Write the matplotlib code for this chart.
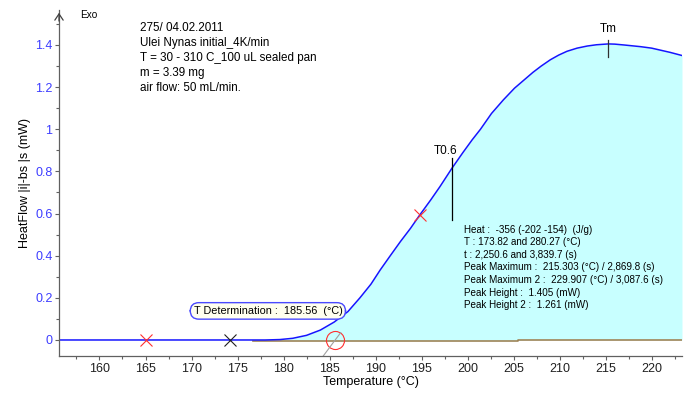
import numpy as np
import matplotlib
matplotlib.use("Agg")
import matplotlib.pyplot as plt
from matplotlib.ticker import MultipleLocator, FuncFormatter

plt.rcParams['font.family'] = ['Liberation Sans', 'DejaVu Sans']

# heat flow curve (temperature in C, heat flow in mW)
temp = [155.6, 165, 174, 178, 179.6, 181, 182.5, 184, 185.5, 187, 188.3, 189.5,
        190.5, 191.6, 192.7, 193.8, 194.8, 196, 197, 198.3, 199.5, 200.5, 201.4,
        202.6, 203.9, 205.1, 206.3, 207.1, 208, 209, 209.9, 210.8, 211.9, 213,
        214, 215.3, 216, 217, 218.8, 220, 221, 222, 223.3]
heat = [0, 0, 0, 0, 0.002, 0.008, 0.022, 0.047, 0.085, 0.135, 0.2, 0.265,
        0.332, 0.40, 0.467, 0.53, 0.593, 0.665, 0.728, 0.815, 0.89, 0.95, 1.0,
        1.075, 1.14, 1.195, 1.24, 1.27, 1.30, 1.33, 1.352, 1.37, 1.385, 1.395,
        1.401, 1.405, 1.404, 1.40, 1.392, 1.385, 1.375, 1.365, 1.35]

# integration baseline
base_t = [176.7, 205.5, 205.5, 223.3]
base_v = [-0.004, -0.004, 0.0, 0.0]

# markers
red_x_t = [165.0, 194.8]
red_x_v = [0.0, 0.593]
black_x_t = [174.2]
black_x_v = [0.0]
t_det = 185.56
t06 = 198.3
tm = 215.3
tm_val = 1.405

header = ("275/ 04.02.2011\nUlei Nynas initial_4K/min\n"
          "T = 30 - 310 C_100 uL sealed pan\nm = 3.39 mg\nair flow: 50 mL/min.")
stats = ("Heat :  -356 (-202 -154)  (J/g)\n"
         "T : 173.82 and 280.27 (\u00b0C)\n"
         "t : 2,250.6 and 3,839.7 (s)\n"
         "Peak Maximum :  215.303 (\u00b0C) / 2,869.8 (s)\n"
         "Peak Maximum 2 :  229.907 (\u00b0C) / 3,087.6 (s)\n"
         "Peak Height :  1.405 (mW)\n"
         "Peak Height 2 :  1.261 (mW)")

fig = plt.figure(figsize=(6.88, 3.94), dpi=100)
ax = fig.add_axes([59/688, 38/394, (682-59)/688, (384-38)/394])

t = np.array(temp)
h = np.array(heat)
bl = np.interp(t, base_t, base_v)
mask = t >= 179.6
ax.fill_between(t[mask], bl[mask], h[mask], color='#c8ffff', lw=0)
ax.plot(base_t, base_v, color='#a08458', lw=1.2)
ax.plot(t, h, color='#1515ff', lw=1.1)

ax.plot(red_x_t, red_x_v, 'x', color='#ff3030', ms=9, mew=0.8)
ax.plot(black_x_t, black_x_v, 'x', color='#202020', ms=9, mew=0.8)
ax.plot([t_det], [0], 'o', mfc='none', mec='#ff3030', ms=13, mew=0.8)
ax.plot([t_det + 0.65, t_det - 1.4], [0.035, -0.085], color='#a0a0a0', lw=0.8)

ax.plot([t06, t06], [0.57, 0.864], color='black', lw=0.9)
ax.text(t06 - 0.7, 0.87, 'T0.6', fontsize=8.5, ha='center', va='bottom')
ax.plot([tm, tm], [tm_val - 0.06, tm_val + 0.02], color='#303030', lw=0.9)
ax.text(tm, tm_val + 0.04, 'Tm', fontsize=8.5, ha='center', va='bottom')

ax.text(178.3, 0.138, 'T Determination :  %.2f  (\u00b0C)' % t_det, fontsize=7.8,
        ha='center', va='center',
        bbox=dict(boxstyle='round,pad=0.3,rounding_size=0.8', fc='#ffffee', ec='#4a4aff', lw=1.0))

ax.text(199.6, 0.548, stats, fontsize=7.1, ha='left', va='top', linespacing=1.33)
fig.text(140/688, 1 - 22/394, header, fontsize=8.4, ha='left', va='top', linespacing=1.34)
fig.text(80/688, 1 - 15/394, 'Exo', fontsize=7.2, ha='left', va='center')

ax.set_xlim(155.6, 223.3)
ax.set_ylim(-0.076, 1.566)
ax.xaxis.set_major_locator(MultipleLocator(5))
ax.xaxis.set_minor_locator(MultipleLocator(2.5))
ax.yaxis.set_major_locator(MultipleLocator(0.2))
ax.yaxis.set_minor_locator(MultipleLocator(0.1))
ax.yaxis.set_major_formatter(FuncFormatter(lambda v, p: '%g' % round(v, 2)))

for s in ['top', 'right']:
    ax.spines[s].set_visible(False)
for s in ['left', 'bottom']:
    ax.spines[s].set_color('#606060')
    ax.spines[s].set_linewidth(0.9)
ax.tick_params(axis='both', which='major', length=3.2, width=0.8, color='#606060', labelsize=9)
ax.tick_params(axis='both', which='minor', length=2.2, width=0.8, color='#606060')
ax.tick_params(axis='y', labelcolor='#3c3cff', pad=1.5)
ax.tick_params(axis='x', labelcolor='#202020', pad=1.5)

ax.annotate('', xy=(0, 1.0), xytext=(0, 0.96), xycoords='axes fraction',
            arrowprops=dict(arrowstyle='->,head_length=0.45,head_width=0.3', color='#404040', lw=0.9))

ax.set_xlabel('Temperature (\u00b0C)', fontsize=9, labelpad=1)
ax.set_ylabel('HeatFlow |i|-bs |s (mW)', fontsize=9, labelpad=3)

fig.savefig('out.png', dpi=100)
